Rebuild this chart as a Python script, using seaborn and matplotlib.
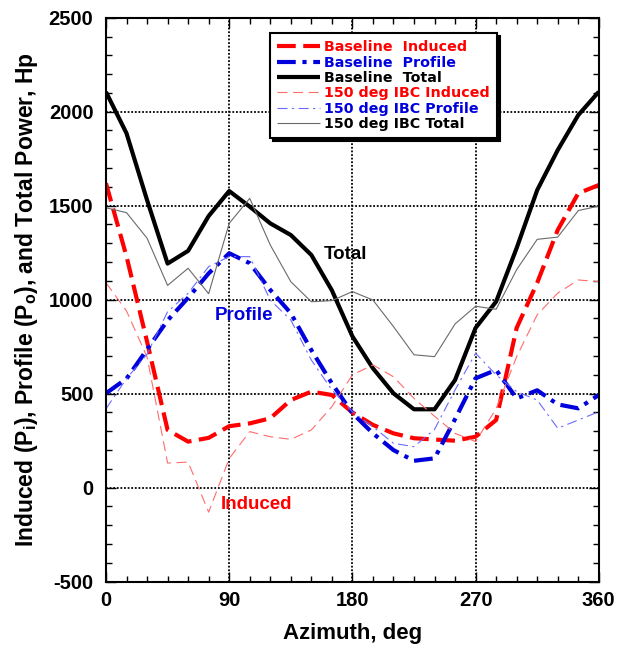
import matplotlib
matplotlib.use("Agg")
import matplotlib.pyplot as plt
import seaborn as sns
import numpy as np
import pandas as pd
from matplotlib.ticker import MultipleLocator

azimuth = list(range(0, 361, 15))

base_induced = [1619, 1230, 777, 307, 245, 265, 327, 342, 369, 466, 511, 493, 400,
                334, 289, 263, 256, 250, 271, 360, 850, 1090, 1371, 1566, 1610]
base_profile = [502, 580, 735, 890, 1010, 1140, 1247, 1194, 1052, 928, 732, 555, 396,
                289, 200, 143, 156, 365, 582, 626, 475, 518, 443, 422, 493]
base_total = [2105, 1885, 1530, 1192, 1260, 1445, 1578, 1495, 1406, 1344, 1238, 1050, 805,
              635, 502, 417, 417, 573, 850, 990, 1275, 1583, 1796, 1982, 2106]
ibc_induced = [1090, 940, 695, 131, 136, -130, 155, 298, 271, 257, 307, 431, 600,
               653, 590, 475, 380, 289, 245, 420, 697, 920, 1035, 1105, 1096]
ibc_profile = [420, 580, 710, 936, 1034, 1176, 1229, 1229, 998, 892, 679, 520, 404,
               324, 236, 218, 310, 520, 715, 600, 511, 466, 316, 360, 404]
ibc_total = [1489, 1463, 1327, 1076, 1167, 1032, 1406, 1539, 1291, 1096, 989, 995, 1043,
             998, 857, 707, 697, 871, 965, 949, 1160, 1321, 1333, 1474, 1498]

labels = ["Baseline  Induced", "Baseline  Profile", "Baseline  Total",
          "150 deg IBC Induced", "150 deg IBC Profile", "150 deg IBC Total"]
series = [base_induced, base_profile, base_total, ibc_induced, ibc_profile, ibc_total]
colors = ["#ff0000", "#0000dd", "#000000", "#ff6c6c", "#6a6aff", "#6a6a6a"]
text_colors = ["#ff0000", "#0000dd", "#000000", "#ff0000", "#0000dd", "#000000"]
widths = [3.0, 3.0, 3.0, 0.8, 0.8, 0.8]
dashes = [(4.5, 1.8), (4.5, 1.6, 1.0, 1.6), None, (9, 5), (9, 4, 2, 4), None]

sns.set_style("ticks")
plt.rcParams['font.family'] = ['Liberation Sans', 'DejaVu Sans']
plt.rcParams['font.weight'] = 'bold'
plt.rcParams['axes.unicode_minus'] = False
plt.rcParams['text.color'] = 'black'
plt.rcParams['axes.labelcolor'] = 'black'
plt.rcParams['mathtext.fontset'] = 'custom'
plt.rcParams['mathtext.rm'] = 'Liberation Sans:bold'
plt.rcParams['mathtext.bf'] = 'Liberation Sans:bold'
plt.rcParams['mathtext.it'] = 'Liberation Sans:bold'

fig = plt.figure(figsize=(6.29, 6.51), dpi=100)
ax = fig.add_axes([0.1685, 0.1065, 0.952 - 0.1685, 0.9728 - 0.1065])

for lab, ys, c, w, d in zip(labels, series, colors, widths, dashes):
    df = pd.DataFrame({"az": azimuth, "p": ys})
    sns.lineplot(data=df, x="az", y="p", ax=ax, color=c, lw=w, label=lab,
                 sort=False, legend=False)
    ln = ax.get_lines()[-1]
    if d is not None:
        ln.set_dashes(d)
    ln.set_solid_capstyle('butt')
    ln.set_dash_capstyle('butt')

ax.set_xlim(0, 360)
ax.set_ylim(-500, 2500)
ax.xaxis.set_major_locator(MultipleLocator(90))
ax.xaxis.set_minor_locator(MultipleLocator(15))
ax.yaxis.set_major_locator(MultipleLocator(500))
ax.yaxis.set_minor_locator(MultipleLocator(100))
ax.tick_params(which='both', direction='in', top=True, right=True, colors='black',
               labelsize=14.5, width=1.0)
ax.tick_params(which='major', length=7)
ax.tick_params(axis='y', which='major', pad=9)
ax.tick_params(axis='x', which='major', pad=7)
ax.tick_params(which='minor', length=4)
for t in ax.get_xticklabels() + ax.get_yticklabels():
    t.set_fontweight('bold')
ax.grid(True, which='major', color='black', linestyle=(0, (1, 1)), lw=1.3)
for s in ax.spines.values():
    s.set_linewidth(1.5)
    s.set_color('black')
    s.set_visible(True)

ax.set_xlabel("Azimuth, deg", fontsize=16, fontweight='bold', labelpad=9, color='black')
ax.set_ylabel(r"Induced (P$_\mathrm{i}$), Profile (P$_\mathrm{o}$), and Total Power, Hp",
              fontsize=16.5, fontweight='bold', labelpad=6, color='black')

ax.text(175, 1240, "Total", color='black', fontsize=13.5, fontweight='bold',
        ha='center', va='center')
ax.text(101, 918, "Profile", color='#0000dd', fontsize=13.5, fontweight='bold',
        ha='center', va='center')
ax.text(110, -87, "Induced", color='#ff0000', fontsize=13.5, fontweight='bold',
        ha='center', va='center')

handles = ax.get_lines()[:6]
leg = ax.legend(handles, labels, loc='upper left', bbox_to_anchor=(0.333, 0.973),
                prop={'family': 'DejaVu Sans', 'weight': 'bold', 'size': 10.3},
                frameon=True, fancybox=False, handlelength=3.0,
                handletextpad=0.3, labelspacing=0.1, borderpad=0.5,
                shadow={'color': 'black', 'alpha': 1.0}, borderaxespad=0)
leg.get_frame().set_edgecolor('black')
leg.get_frame().set_linewidth(1.5)
leg.get_frame().set_alpha(1.0)
for t, c in zip(leg.get_texts(), text_colors):
    t.set_color(c)

fig.savefig("out.png", dpi=100)
